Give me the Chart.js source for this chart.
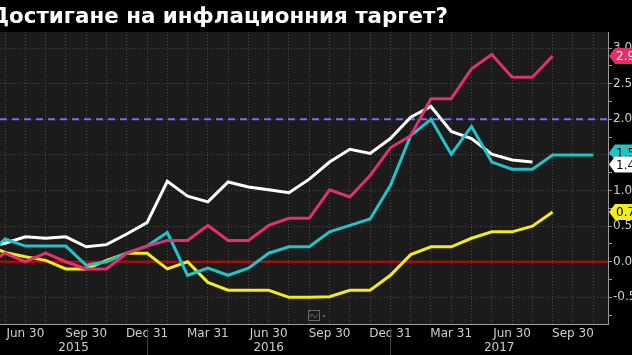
<!DOCTYPE html>
<html>
<head>
<meta charset="utf-8">
<script src="https://cdn.jsdelivr.net/npm/chart.js@4"></script>
<style>
  html, body { margin: 0; padding: 0; background: #000; }
  #wrap { width: 632px; height: 355px; position: relative; }
</style>
</head>
<body>
<div id="wrap"><canvas id="myChart"></canvas></div>
<script>
const titleText = 'Достигане на инфлационния таргет?';

// one point per month end
const monthEnds = ['2015-04-30','2015-05-31','2015-06-30','2015-07-31','2015-08-31','2015-09-30',
  '2015-10-31','2015-11-30','2015-12-31','2016-01-31','2016-02-29','2016-03-31','2016-04-30',
  '2016-05-31','2016-06-30','2016-07-31','2016-08-31','2016-09-30','2016-10-31','2016-11-30',
  '2016-12-31','2017-01-31','2017-02-28','2017-03-31','2017-04-30','2017-05-31','2017-06-30',
  '2017-07-31','2017-08-31','2017-09-30','2017-10-31'];

const pinkSeries = [-0.05,0.12,0.00,0.12,0.00,-0.10,-0.10,0.12,0.22,0.30,0.30,0.51,0.30,0.30,0.51,
  0.61,0.61,1.01,0.91,1.21,1.60,1.77,2.29,2.29,2.71,2.91,2.59,2.59,2.89,null,null];
const cyanSeries = [0.05,0.32,0.22,0.22,0.22,-0.05,0.00,0.12,0.22,0.41,-0.19,-0.09,-0.19,-0.09,0.12,
  0.21,0.21,0.42,0.51,0.60,1.07,1.77,2.00,1.51,1.90,1.40,1.30,1.30,1.50,1.50,1.50];
const whiteSeries = [0.20,0.26,0.35,0.33,0.35,0.21,0.24,0.39,0.55,1.13,0.92,0.84,1.12,1.05,1.01,
  0.97,1.16,1.40,1.58,1.52,1.73,2.03,2.18,1.83,1.73,1.51,1.43,1.40,null,null,null];
const yellowSeries = [0.25,0.13,0.07,0.02,-0.10,-0.10,0.02,0.12,0.12,-0.10,0.00,-0.29,-0.40,-0.40,
  -0.40,-0.50,-0.50,-0.49,-0.40,-0.40,-0.19,0.10,0.21,0.21,0.33,0.42,0.42,0.50,0.70,null,null];

const zeroLevel = [0];
const targetLevel = [2.0];

const yTicks = [-0.75,-0.5,-0.25,0,0.25,0.5,0.75,1,1.25,1.5,1.75,2,2.25,2.5,2.75,3];
const yearLabels = ['2015','2016','2017'];
const monthNames = ['Jan','Feb','Mar','Apr','May','Jun','Jul','Aug','Sep','Oct','Nov','Dec'];

// linear x axis on the position in monthEnds
const toPoints = (arr) => arr.map((v, k) => v === null ? null : {x: k, y: v}).filter(p => p);

const line = (label, data, color) => ({
  label: label,
  data: toPoints(data),
  borderColor: color,
  borderWidth: 3,
  pointRadius: 0,
  tension: 0,
  fill: false
});

// background: black outside, dark grey plot area
const bgPlugin = {
  id: 'bg',
  beforeDraw(chart) {
    const {ctx, chartArea: a} = chart;
    ctx.save();
    ctx.fillStyle = '#000';
    ctx.fillRect(0, 0, chart.width, chart.height);
    ctx.fillStyle = '#1b1b1b';
    ctx.fillRect(a.left, a.top, a.right - a.left, a.bottom - a.top);
    ctx.restore();
  }
};

// red zero line + dashed target line under the series
const levelsPlugin = {
  id: 'levels',
  beforeDatasetsDraw(chart) {
    const {ctx, chartArea: a, scales: {y}} = chart;
    ctx.save();
    ctx.lineWidth = 2;
    ctx.strokeStyle = '#d40000';
    zeroLevel.forEach(v => {
      const py = y.getPixelForValue(v);
      ctx.beginPath(); ctx.moveTo(a.left, py); ctx.lineTo(a.right, py); ctx.stroke();
    });
    ctx.strokeStyle = '#7d6cf0';
    ctx.setLineDash([7, 5]);
    targetLevel.forEach(v => {
      const py = y.getPixelForValue(v);
      ctx.beginPath(); ctx.moveTo(a.left, py); ctx.lineTo(a.right, py); ctx.stroke();
    });
    ctx.restore();
  }
};

// title, year row, value tags on the right
const extrasPlugin = {
  id: 'extras',
  afterDraw(chart) {
    const {ctx, chartArea: a, scales: {x, y}} = chart;
    ctx.save();

    // title is cut a bit on the left in the original
    ctx.fillStyle = '#fff';
    ctx.font = 'bold 21.4px "DejaVu Sans"';
    ctx.textBaseline = 'alphabetic';
    ctx.fillText(titleText, -10, 23);

    // year separators at every Dec 31
    const decs = [];
    monthEnds.forEach((d, k) => { if (d.slice(5, 7) === '12') decs.push(k); });
    ctx.strokeStyle = '#444';
    ctx.lineWidth = 1;
    decs.forEach(k => {
      const px = Math.round(x.getPixelForValue(k)) + 0.5;
      ctx.beginPath(); ctx.moveTo(px, a.bottom + 4); ctx.lineTo(px, chart.height); ctx.stroke();
    });
    ctx.fillStyle = '#cfcfcf';
    ctx.font = '12px "DejaVu Sans"';
    ctx.textAlign = 'center';
    ctx.textBaseline = 'middle';
    yearLabels.forEach(yr => {
      let from = x.min, to = x.max;
      monthEnds.forEach((d, k) => {
        if (d.slice(0, 4) === String(Number(yr) - 1) && d.slice(5, 7) === '12') from = Math.max(from, k);
        if (d.slice(0, 4) === yr && d.slice(5, 7) === '12') to = Math.min(to, k);
      });
      const px = (x.getPixelForValue(from) + x.getPixelForValue(to)) / 2;
      ctx.fillText(yr, px, 348);
    });

    // small chart icon at the bottom
    const ix = (a.left + a.right) / 2 + 4;
    ctx.strokeStyle = '#666';
    ctx.strokeRect(ix + 0.5, a.bottom - 13.5, 11, 10);
    ctx.beginPath();
    ctx.moveTo(ix + 2, a.bottom - 7); ctx.lineTo(ix + 4, a.bottom - 10);
    ctx.lineTo(ix + 7, a.bottom - 6); ctx.lineTo(ix + 10, a.bottom - 10);
    ctx.stroke();
    ctx.fillStyle = '#666';
    ctx.fillRect(ix + 15, a.bottom - 9, 2, 2);

    // last value tags
    const tags = chart.data.datasets.map(ds => {
      const last = ds.data[ds.data.length - 1];
      return {v: last.y, py: y.getPixelForValue(last.y), color: ds.borderColor, text: ds.tagText};
    });
    tags.sort((p, q) => p.py - q.py);
    for (let i = 1; i < tags.length; i++) {
      const gap = tags[i].py - tags[i - 1].py;
      if (gap < 12) {
        const push = (12 - gap) / 2;
        tags[i - 1].py -= push;
        tags[i].py += push;
      }
    }
    // top one first, so the lower tag covers it
    ctx.textAlign = 'left';
    ctx.font = '12px "DejaVu Sans"';
    tags.forEach(t => {
      const x0 = a.right + 1, h = 8;
      ctx.fillStyle = t.color;
      ctx.beginPath();
      ctx.moveTo(x0, t.py);
      ctx.lineTo(x0 + 6, t.py - h);
      ctx.lineTo(chart.width + 2, t.py - h);
      ctx.lineTo(chart.width + 2, t.py + h);
      ctx.lineTo(x0 + 6, t.py + h);
      ctx.closePath();
      ctx.fill();
      ctx.fillStyle = t.text;
      ctx.fillText(t.v.toFixed(1), x0 + 7, t.py + 1);
    });
    ctx.restore();
  }
};

const pinkLine = line('pink', pinkSeries, '#e2306c');
pinkLine.tagText = '#fff';
const cyanLine = line('cyan', cyanSeries, '#22c3c6');
cyanLine.tagText = '#000';
const whiteLine = line('white', whiteSeries, '#ffffff');
whiteLine.tagText = '#000';
const yellowLine = line('yellow', yellowSeries, '#f2ec1c');
yellowLine.tagText = '#000';

new Chart(document.getElementById('myChart'), {
  type: 'line',
  data: {
    // first dataset is drawn on top
    datasets: [pinkLine, cyanLine, whiteLine, yellowLine]
  },
  options: {
    responsive: true,
    maintainAspectRatio: false,
    animation: false,
    layout: { padding: { top: 32, left: 0, right: 0, bottom: 0 } },
    plugins: { legend: { display: false }, tooltip: { enabled: false } },
    scales: {
      x: {
        type: 'linear',
        min: 0.75,
        max: 30.73,
        afterBuildTicks: (scale) => {
          scale.ticks = monthEnds.map((d, k) => ({value: k})).filter(t => t.value >= scale.min && t.value <= scale.max);
        },
        afterFit: (scale) => { scale.height = 31; },
        ticks: {
          autoSkip: false,
          maxRotation: 0,
          padding: 3,
          color: '#cfcfcf',
          font: { family: 'DejaVu Sans', size: 12 },
          callback: (value) => {
            const d = monthEnds[value];
            const m = Number(d.slice(5, 7));
            return m % 3 === 0 ? monthNames[m - 1] + ' ' + d.slice(8, 10) : '';
          }
        },
        grid: { color: '#4a4a4a', lineWidth: 1, drawTicks: false },
        border: { color: '#9a9a9a', width: 1, dash: [1, 2] }
      },
      y: {
        position: 'right',
        min: -0.874,
        max: 3.226,
        afterBuildTicks: (scale) => { scale.ticks = yTicks.map(v => ({value: v})); },
        afterFit: (scale) => { scale.width = 24; },
        ticks: {
          padding: 1,
          color: '#cfcfcf',
          font: { family: 'DejaVu Sans', size: 12 },
          callback: (value) => Number.isInteger(value * 2) ? value.toFixed(1) : ''
        },
        grid: {
          color: (c) => Number.isInteger(c.tick.value * 2) ? '#4a4a4a' : 'rgba(0,0,0,0)',
          tickColor: '#9a9a9a',
          tickLength: 4,
          tickBorderDash: [],
          lineWidth: 1
        },
        border: { color: '#9a9a9a', width: 1, dash: [1, 2] }
      }
    }
  },
  plugins: [bgPlugin, levelsPlugin, extrasPlugin]
});
</script>
</body>
</html>
